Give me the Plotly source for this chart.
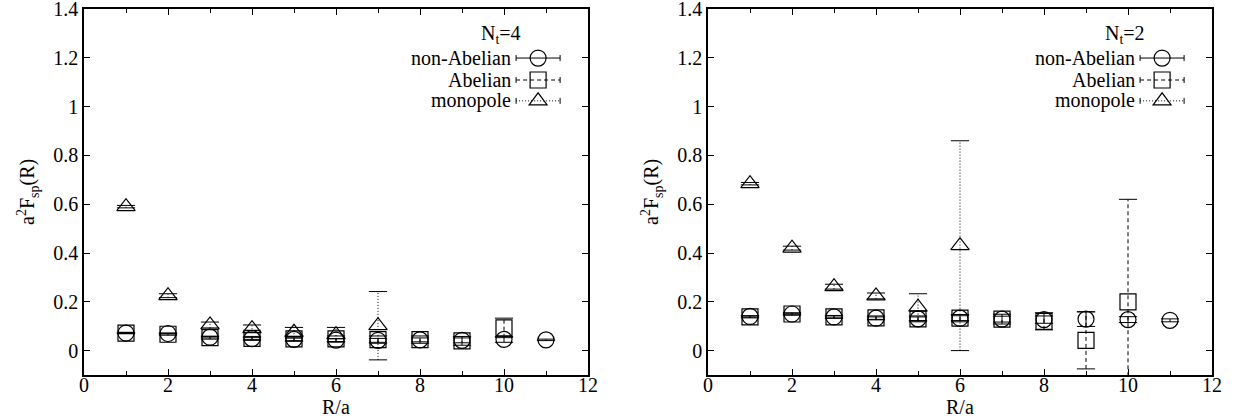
import plotly.graph_objects as go

# ---------------- data ----------------
# N_t = 4 (left panel)
R_na4 = [1, 2, 3, 4, 5, 6, 7, 8, 9, 10, 11]
na4 = [0.072, 0.070, 0.055, 0.049, 0.046, 0.043, 0.042, 0.044, 0.042, 0.046, 0.044]
na4_err = [0.002, 0.002, 0.003, 0.004, 0.005, 0.006, 0.008, 0.008, 0.010, 0.012, 0.003]

R_ab4 = [1, 2, 3, 4, 5, 6, 7, 8, 9, 10]
ab4 = [0.072, 0.067, 0.053, 0.050, 0.048, 0.048, 0.045, 0.045, 0.040, 0.093]
ab4_err = [0.003, 0.004, 0.006, 0.008, 0.010, 0.012, 0.015, 0.015, 0.018, 0.040]

R_mo4 = [1, 2, 3, 4, 5, 6, 7]
mo4 = [0.590, 0.225, 0.105, 0.090, 0.075, 0.065, 0.102]
mo4_err = [0.005, 0.008, 0.012, 0.015, 0.020, 0.030, 0.140]

# N_t = 2 (right panel)
R_na2 = [1, 2, 3, 4, 5, 6, 7, 8, 9, 10, 11]
na2 = [0.140, 0.150, 0.138, 0.133, 0.130, 0.133, 0.129, 0.127, 0.129, 0.127, 0.124]
na2_err = [0.003, 0.003, 0.004, 0.005, 0.008, 0.010, 0.012, 0.015, 0.030, 0.012, 0.006]

R_ab2 = [1, 2, 3, 4, 5, 6, 7, 8, 9, 10]
ab2 = [0.138, 0.150, 0.138, 0.134, 0.130, 0.133, 0.129, 0.120, 0.042, 0.200]
ab2_err = [0.004, 0.005, 0.006, 0.008, 0.012, 0.015, 0.020, 0.035, 0.117, 0.420]

R_mo2 = [1, 2, 3, 4, 5, 6]
mo2 = [0.684, 0.420, 0.262, 0.224, 0.178, 0.430]
mo2_err = [0.005, 0.008, 0.010, 0.012, 0.055, 0.430]

panel_titles = ["N<sub>t</sub>=4", "N<sub>t</sub>=2"]
series_names = ["non-Abelian", "Abelian", "monopole"]
x_tick_vals = [0, 2, 4, 6, 8, 10, 12]
y_tick_vals = [0, 0.2, 0.4, 0.6, 0.8, 1.0, 1.2, 1.4]

# ---------------- styling ----------------
FONT = "Liberation Serif, Times New Roman, Times, serif"
FS = 20
W, H = 1239, 419
ML, MR, MT, MB = 84, 27, 9, 44
symbols = ["circle-open", "square-open", "triangle-up-open"]
dashes = ["solid", "4px,3px", "1px,2px"]

fig = go.Figure()


def add_series(R, v, e, k, xa, ya):
    # error bar stems
    xs, ys = [], []
    for r, val, err in zip(R, v, e):
        xs += [r, r, None]
        ys += [val - err, val + err, None]
    fig.add_trace(go.Scatter(x=xs, y=ys, mode="lines", xaxis=xa, yaxis=ya,
                             line=dict(color="black", width=1, dash=dashes[k]),
                             showlegend=False, hoverinfo="skip", cliponaxis=True))
    # caps
    cx, cy = [], []
    for r, val, err in zip(R, v, e):
        cx += [r, r]
        cy += [val - err, val + err]
    fig.add_trace(go.Scatter(x=cx, y=cy, mode="markers", xaxis=xa, yaxis=ya,
                             marker=dict(symbol="line-ew-open", size=13, color="black",
                                         line=dict(color="black", width=1)),
                             showlegend=False, hoverinfo="skip", cliponaxis=True))
    # points
    fig.add_trace(go.Scatter(x=R, y=v, mode="markers", xaxis=xa, yaxis=ya,
                             marker=dict(symbol=symbols[k], size=16, color="black",
                                         line=dict(color="black", width=1.2)),
                             name=series_names[k], showlegend=False, cliponaxis=True))


add_series(R_na4, na4, na4_err, 0, "x", "y")
add_series(R_ab4, ab4, ab4_err, 1, "x", "y")
add_series(R_mo4, mo4, mo4_err, 2, "x", "y")
add_series(R_na2, na2, na2_err, 0, "x2", "y2")
add_series(R_ab2, ab2, ab2_err, 1, "x2", "y2")
add_series(R_mo2, mo2, mo2_err, 2, "x2", "y2")

plot_w = W - ML - MR
plot_h = H - MT - MB
left_dom = [0, (588 - ML) / plot_w]
right_dom = [(708 - ML) / plot_w, 1]

axis_common = dict(
    showline=True, linecolor="black", linewidth=1.5, mirror="allticks",
    ticks="inside", ticklen=6, tickwidth=1, tickcolor="black",
    showgrid=False, zeroline=False, automargin=False, ticklabeloverflow="allow",
    tickfont=dict(family=FONT, size=FS, color="black"),
)
xaxis_common = dict(axis_common, range=[0, 12], tickvals=x_tick_vals,
                    ticklabelstandoff=-9,
                    minor=dict(dtick=1, ticks="inside", ticklen=4, tickcolor="black"))
yaxis_common = dict(axis_common, range=[-0.1, 1.4], tickvals=y_tick_vals)

fig.update_layout(
    width=W, height=H,
    margin=dict(l=ML, r=MR, t=MT, b=MB, autoexpand=False),
    plot_bgcolor="white", paper_bgcolor="white",
    font=dict(family=FONT, size=FS, color="black"),
    showlegend=False,
    xaxis=dict(xaxis_common, domain=left_dom, anchor="y"),
    yaxis=dict(yaxis_common, domain=[0, 1], anchor="x"),
    xaxis2=dict(xaxis_common, domain=right_dom, anchor="y2"),
    yaxis2=dict(yaxis_common, domain=[0, 1], anchor="x2"),
)

annotations = []
shapes = []
for p, (xr, yr, dom) in enumerate([("x", "y", left_dom), ("x2", "y2", right_dom)]):
    x0px = ML + dom[0] * plot_w
    # axis titles
    annotations.append(dict(
        text="a<sup>2</sup>F<sub>sp</sub>(R)", textangle=-90,
        x=(x0px - 56 - ML) / plot_w, y=0.5, xref="paper", yref="paper",
        xanchor="center", yanchor="middle",
        showarrow=False, font=dict(family=FONT, size=FS)))
    annotations.append(dict(
        text="R/a", x=(x0px + 252 - ML) / plot_w, y=(375 - 407) / plot_h,
        xref="paper", yref="paper", xanchor="center", yanchor="middle",
        showarrow=False, font=dict(family=FONT, size=FS)))
    # key title
    annotations.append(dict(
        text=panel_titles[p], x=0.827, y=0.929,
        xref=f"{xr} domain", yref=f"{yr} domain", showarrow=False,
        xanchor="center", yanchor="middle", font=dict(family=FONT, size=FS)))
    rows = [0.866, 0.806, 0.749]
    for k in range(3):
        yy = rows[k]
        annotations.append(dict(
            text=series_names[k], x=0.852, y=yy,
            xref=f"{xr} domain", yref=f"{yr} domain", showarrow=False,
            xanchor="right", yanchor="middle", font=dict(family=FONT, size=FS)))
        xc = 0.901
        common = dict(xref=f"{xr} domain", yref=f"{yr} domain",
                      xsizemode="pixel", ysizemode="pixel",
                      xanchor=xc, yanchor=yy, line=dict(color="black", width=1))
        # sample line with caps
        shapes.append(dict(common, type="line", x0=-22, x1=22, y0=0, y1=0,
                           line=dict(color="black", width=1, dash=dashes[k])))
        shapes.append(dict(common, type="line", x0=-22, x1=-22, y0=-3, y1=3))
        shapes.append(dict(common, type="line", x0=22, x1=22, y0=-3, y1=3))
        if k == 0:
            shapes.append(dict(common, type="circle", x0=-8, x1=8, y0=-8, y1=8,
                               line=dict(color="black", width=1.2)))
        elif k == 1:
            shapes.append(dict(common, type="rect", x0=-8, x1=8, y0=-8, y1=8,
                               line=dict(color="black", width=1.2)))
        else:
            shapes.append(dict(common, type="path",
                               path="M -9,-4 L 9,-4 L 0,8 Z",
                               line=dict(color="black", width=1.2)))

fig.update_layout(annotations=annotations, shapes=shapes)

fig.write_html("out.html", config={"displayModeBar": False},
               post_script="document.body.style.margin='0';document.body.style.padding='0';")
